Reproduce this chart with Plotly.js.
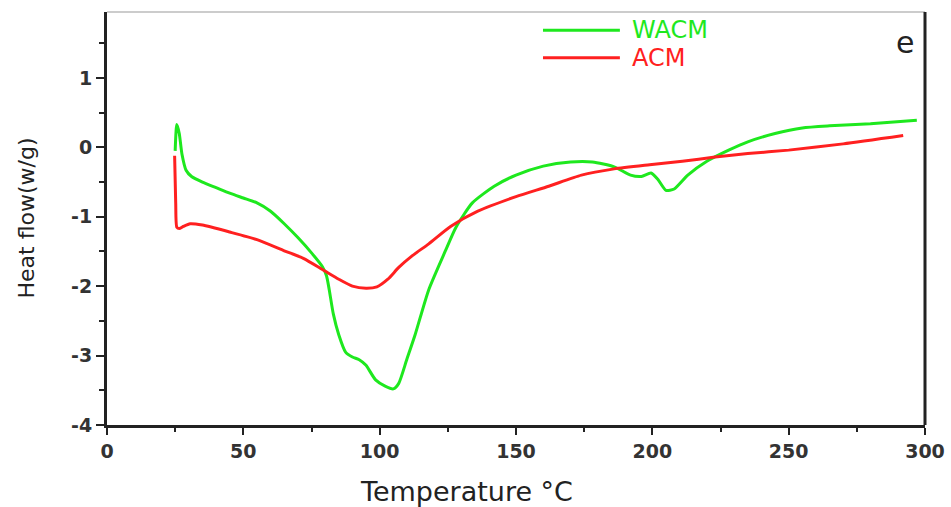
<!DOCTYPE html>
<html>
<head>
<meta charset="utf-8">
<script src="https://cdn.plot.ly/plotly-3.0.1.min.js"></script>
<style>html,body{margin:0;padding:0;background:#fff;}#chart{width:951px;height:507px;}</style>
</head>
<body>
<div id="chart"></div>
<script>
var wacmT = [25, 25.6, 26.5, 27.5, 29, 31, 35, 40, 45, 50, 55, 60, 65, 70, 75, 79, 80.5, 81.5, 83, 85, 87.5, 90, 92.5, 95, 98.5, 102, 105, 107, 110, 113, 118, 124, 128, 134, 142, 150, 160, 170, 178, 186, 192, 196, 199.5, 202, 205, 208, 213, 220, 228, 235, 245, 255, 265, 280, 297];
var wacmV = [-0.05, 0.33, 0.2, -0.1, -0.33, -0.42, -0.5, -0.58, -0.66, -0.73, -0.8, -0.92, -1.1, -1.3, -1.52, -1.72, -1.85, -2.05, -2.4, -2.7, -2.95, -3.02, -3.06, -3.14, -3.35, -3.44, -3.48, -3.4, -3.05, -2.7, -2.05, -1.5, -1.15, -0.8, -0.56, -0.4, -0.27, -0.21, -0.21, -0.28, -0.4, -0.42, -0.37, -0.46, -0.62, -0.6, -0.4, -0.2, -0.04, 0.08, 0.2, 0.28, 0.31, 0.34, 0.39];
var acmT = [24.8, 25.2, 25.6, 26.5, 28, 30.5, 35, 45, 55, 65, 72, 79, 85, 90, 95, 99, 103, 107, 112, 118, 126, 136, 150, 162, 174, 186, 199, 211, 223, 235, 250, 270, 292];
var acmV = [-0.12, -0.8, -1.15, -1.17, -1.14, -1.1, -1.12, -1.22, -1.33, -1.49, -1.6, -1.76, -1.9, -2.0, -2.03, -2.01, -1.9, -1.73, -1.56, -1.39, -1.14, -0.92, -0.71, -0.56, -0.4, -0.31, -0.25, -0.2, -0.14, -0.09, -0.04, 0.05, 0.17];
var seriesNames = ['WACM', 'ACM'];
var seriesColors = ['#1ee81e', '#ff2020'];
var xTickVals = [0, 50, 100, 150, 200, 250, 300];
var yTickVals = [-4, -3, -2, -1, 0, 1];

var traces = [
  {x: wacmT, y: wacmV, name: seriesNames[0], mode: 'lines', line: {color: seriesColors[0], width: 3, shape: 'spline', smoothing: 0.6}},
  {x: acmT, y: acmV, name: seriesNames[1], mode: 'lines', line: {color: seriesColors[1], width: 3, shape: 'spline', smoothing: 0.6}}
];

var tickFont = {family: 'DejaVu Sans', size: 19, color: '#333', weight: 'bold'};

var layout = {
  width: 951, height: 507,
  margin: {l: 107, r: 26, t: 12, b: 82},
  paper_bgcolor: '#fff', plot_bgcolor: '#fff',
  showlegend: false,
  xaxis: {
    range: [0, 300], tickvals: xTickVals, ticktext: xTickVals.map(String),
    showgrid: false, zeroline: false, showline: true, linecolor: '#222', linewidth: 3,
    ticks: 'outside', ticklen: 7, tickwidth: 2, tickcolor: '#222',
    minor: {dtick: 25, ticks: 'outside', ticklen: 4, tickwidth: 2, tickcolor: '#222', showgrid: false},
    tickfont: tickFont
  },
  yaxis: {
    range: [-4, 1.95], tickvals: yTickVals, ticktext: yTickVals.map(String),
    showgrid: false, zeroline: false, showline: true, linecolor: '#222', linewidth: 3,
    ticks: 'outside', ticklen: 8, tickwidth: 2, tickcolor: '#222',
    minor: {dtick: 0.5, ticks: 'outside', ticklen: 5, tickwidth: 2, tickcolor: '#222', showgrid: false},
    tickfont: tickFont
  },
  shapes: [
    {type: 'line', xref: 'paper', yref: 'paper', x0: 0, x1: 1, y0: 1, y1: 1, line: {color: '#999', width: 1}},
    {type: 'line', xref: 'paper', yref: 'paper', x0: 1, x1: 1, y0: 0, y1: 1, line: {color: '#222', width: 3}},
    {type: 'line', xref: 'paper', yref: 'paper', x0: 0.533, x1: 0.627, y0: 0.956, y1: 0.956, line: {color: seriesColors[0], width: 3}},
    {type: 'line', xref: 'paper', yref: 'paper', x0: 0.533, x1: 0.627, y0: 0.889, y1: 0.889, line: {color: seriesColors[1], width: 3}}
  ],
  annotations: [
    {xref: 'paper', yref: 'paper', x: 0.639, y: 0.956, xanchor: 'left', yanchor: 'middle', text: seriesNames[0], showarrow: false, font: {family: 'DejaVu Sans', size: 24, color: seriesColors[0]}},
    {xref: 'paper', yref: 'paper', x: 0.639, y: 0.889, xanchor: 'left', yanchor: 'middle', text: seriesNames[1], showarrow: false, font: {family: 'DejaVu Sans', size: 24, color: seriesColors[1]}},
    {xref: 'paper', yref: 'paper', x: 0.976, y: 0.925, xanchor: 'center', yanchor: 'middle', text: 'e', showarrow: false, font: {family: 'DejaVu Sans', size: 30, color: '#222'}},
    {xref: 'paper', yref: 'paper', x: 0.439, y: -0.16, xanchor: 'center', yanchor: 'middle', text: 'Temperature °C', showarrow: false, font: {family: 'DejaVu Sans', size: 27, color: '#222'}},
    {xref: 'paper', yref: 'paper', x: -0.099, y: 0.5, xanchor: 'center', yanchor: 'middle', textangle: -90, text: 'Heat flow(w/g)', showarrow: false, font: {family: 'DejaVu Sans', size: 22, color: '#222'}}
  ]
};

Plotly.newPlot('chart', traces, layout, {displayModeBar: false, staticPlot: true});
</script>
</body>
</html>
